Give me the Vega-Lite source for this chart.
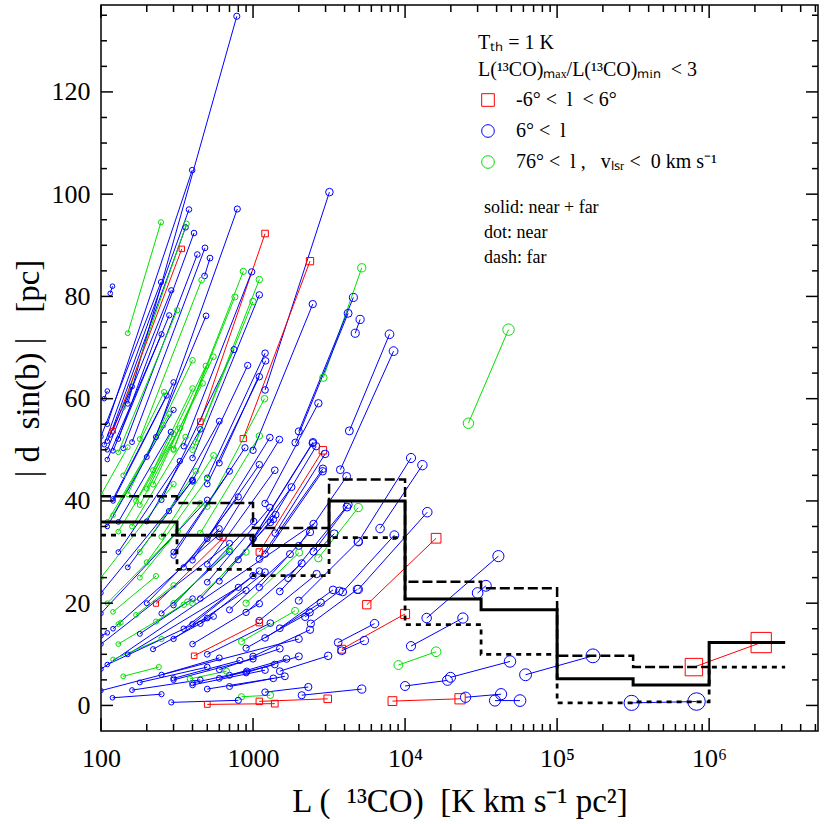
{
"$schema": "https://vega.github.io/schema/vega-lite/v6.json",
"width": 717, "height": 726,
"autosize": {"type": "none"},
"padding": {"left": 101, "top": 5, "right": 12, "bottom": 93},
"background": "white",
"config": {
 "font": "Liberation Serif",
 "view": {"stroke": "black", "strokeWidth": 1.5},
 "axis": {"domain": false, "grid": false, "ticks": false, "labelFontSize": 26, "labelColor": "black", "titleFontSize": 33, "titleFontWeight": "normal", "titleColor": "black", "labelOverlap": false, "labelBound": false, "labelFlush": false}
},
"datasets": {
"xmaj": [{"t":100},{"t":1000},{"t":10000},{"t":100000},{"t":1000000}],
"xmin": [{"t":200},{"t":300},{"t":400},{"t":500},{"t":600},{"t":700},{"t":800},{"t":900},{"t":2000},{"t":3000},{"t":4000},{"t":5000},{"t":6000},{"t":7000},{"t":8000},{"t":9000},{"t":20000},{"t":30000},{"t":40000},{"t":50000},{"t":60000},{"t":70000},{"t":80000},{"t":90000},{"t":200000},{"t":300000},{"t":400000},{"t":500000},{"t":600000},{"t":700000},{"t":800000},{"t":900000},{"t":2000000},{"t":3000000},{"t":4000000},{"t":5000000}],
"ymaj": [{"t":0},{"t":20},{"t":40},{"t":60},{"t":80},{"t":100},{"t":120}],
"ymin": [{"t":5},{"t":10},{"t":15},{"t":25},{"t":30},{"t":35},{"t":45},{"t":50},{"t":55},{"t":65},{"t":70},{"t":75},{"t":85},{"t":90},{"t":95},{"t":105},{"t":110},{"t":115},{"t":125},{"t":130},{"t":135}],
"seg": [
{"id":1,"g":"b","L":150,"d":59},{"id":1,"g":"b","L":782,"d":134.8},
{"id":2,"g":"b","L":110,"d":55},{"id":2,"g":"b","L":398,"d":104.7},
{"id":3,"g":"b","L":105,"d":51},{"id":3,"g":"b","L":379,"d":97},
{"id":4,"g":"g","L":150,"d":72.8},{"id":4,"g":"g","L":248,"d":94.5},
{"id":5,"g":"b","L":115,"d":52.9},{"id":5,"g":"b","L":360,"d":93.5},
{"id":6,"g":"g","L":140,"d":58.3},{"id":6,"g":"g","L":365,"d":94.2},
{"id":7,"g":"b","L":130,"d":52.1},{"id":7,"g":"b","L":409,"d":92.4},
{"id":8,"g":"r","L":120,"d":53.7},{"id":8,"g":"r","L":340,"d":89.3},
{"id":9,"g":"b","L":140,"d":50.3},{"id":9,"g":"b","L":430,"d":88.2},
{"id":10,"g":"b","L":160,"d":51.5},{"id":10,"g":"b","L":483,"d":89.5},
{"id":11,"g":"b","L":480,"d":84},{"id":11,"g":"b","L":521,"d":87.5},
{"id":12,"g":"b","L":230,"d":52.5},{"id":12,"g":"b","L":788,"d":97.1},
{"id":13,"g":"b","L":1200,"d":61.7},{"id":13,"g":"b","L":3180,"d":100.4},
{"id":14,"g":"r","L":450,"d":55.5},{"id":14,"g":"r","L":1200,"d":92.3},
{"id":15,"g":"r","L":862,"d":52.2},{"id":15,"g":"r","L":2370,"d":86.9},
{"id":16,"g":"g","L":2900,"d":64.1},{"id":16,"g":"g","L":5190,"d":85.6},
{"id":17,"g":"b","L":2000,"d":53.6},{"id":17,"g":"b","L":4570,"d":79.8},
{"id":18,"g":"b","L":1900,"d":51.4},{"id":18,"g":"b","L":4220,"d":76.7},
{"id":19,"g":"b","L":4700,"d":72.8},{"id":19,"g":"b","L":5060,"d":75.5},
{"id":20,"g":"b","L":4300,"d":53.7},{"id":20,"g":"b","L":7900,"d":72.6},
{"id":21,"g":"b","L":3750,"d":46.1},{"id":21,"g":"b","L":8400,"d":69.3},
{"id":22,"g":"b","L":4930,"d":32.0},{"id":22,"g":"b","L":10940,"d":48.4},
{"id":23,"g":"b","L":6850,"d":34.6},{"id":23,"g":"b","L":13000,"d":47.0},
{"id":24,"g":"b","L":4930,"d":22.7},{"id":24,"g":"b","L":14000,"d":37.8},
{"id":25,"g":"b","L":3890,"d":22.2},{"id":25,"g":"b","L":8500,"d":33.3},
{"id":26,"g":"r","L":5600,"d":19.7},{"id":26,"g":"r","L":16000,"d":32.7},
{"id":27,"g":"b","L":13870,"d":17.1},{"id":27,"g":"b","L":41100,"d":29.2},
{"id":28,"g":"b","L":30000,"d":22.0},{"id":28,"g":"b","L":34000,"d":23.4},
{"id":29,"g":"r","L":3830,"d":11.0},{"id":29,"g":"r","L":10000,"d":17.9},
{"id":30,"g":"b","L":3630,"d":12.3},{"id":30,"g":"b","L":6300,"d":16.0},
{"id":31,"g":"b","L":3830,"d":10.7},{"id":31,"g":"b","L":5400,"d":12.7},
{"id":32,"g":"b","L":10940,"d":11.6},{"id":32,"g":"b","L":24000,"d":17.1},
{"id":33,"g":"g","L":9040,"d":7.9},{"id":33,"g":"g","L":16000,"d":10.5},
{"id":34,"g":"b","L":10000,"d":3.8},{"id":34,"g":"b","L":19000,"d":4.9},
{"id":35,"g":"b","L":19900,"d":5.5},{"id":35,"g":"b","L":49000,"d":8.6},
{"id":36,"g":"b","L":62000,"d":6.0},{"id":36,"g":"b","L":172000,"d":9.7},
{"id":37,"g":"r","L":8260,"d":0.85},{"id":37,"g":"r","L":23000,"d":1.3},
{"id":38,"g":"b","L":25000,"d":1.6},{"id":38,"g":"b","L":42800,"d":2.2},
{"id":39,"g":"b","L":39000,"d":0.95},{"id":39,"g":"b","L":57000,"d":0.95},
{"id":40,"g":"b","L":309000,"d":0.5},{"id":40,"g":"b","L":826000,"d":0.76},
{"id":41,"g":"r","L":794000,"d":7.5},{"id":41,"g":"r","L":2200000,"d":12.3},
{"id":42,"g":"g","L":26100,"d":55.2},{"id":42,"g":"g","L":47900,"d":73.5},
{"id":43,"g":"b","L":2000,"d":31.2},{"id":43,"g":"b","L":4130,"d":44.8},
{"id":44,"g":"b","L":1200,"d":29.6},{"id":44,"g":"b","L":2870,"d":45.8},
{"id":45,"g":"b","L":800,"d":28.5},{"id":45,"g":"b","L":1790,"d":42.7},
{"id":46,"g":"b","L":1000,"d":32.6},{"id":46,"g":"b","L":2470,"d":51.3},
{"id":47,"g":"b","L":500,"d":27.6},{"id":47,"g":"b","L":1390,"d":46.0},
{"id":48,"g":"b","L":400,"d":28.4},{"id":48,"g":"b","L":1100,"d":47.1},
{"id":49,"g":"b","L":300,"d":29.3},{"id":49,"g":"b","L":885,"d":50.4},
{"id":50,"g":"b","L":500,"d":24.1},{"id":50,"g":"b","L":1290,"d":38.7},
{"id":51,"g":"b","L":600,"d":24.3},{"id":51,"g":"b","L":1410,"d":37.3},
{"id":52,"g":"b","L":450,"d":20.9},{"id":52,"g":"b","L":1360,"d":36.4},
{"id":53,"g":"b","L":300,"d":19.6},{"id":53,"g":"b","L":1010,"d":36.0},
{"id":54,"g":"b","L":1100,"d":23.1},{"id":54,"g":"b","L":2370,"d":33.9},
{"id":55,"g":"b","L":1700,"d":24.9},{"id":55,"g":"b","L":4230,"d":39.3},
{"id":56,"g":"b","L":2500,"d":30.1},{"id":56,"g":"b","L":4150,"d":38.8},
{"id":57,"g":"g","L":2690,"d":28.8},{"id":57,"g":"g","L":4920,"d":38.7},
{"id":58,"g":"b","L":1500,"d":22.3},{"id":58,"g":"b","L":3420,"d":33.6},
{"id":59,"g":"b","L":2000,"d":20.5},{"id":59,"g":"b","L":4920,"d":32.1},
{"id":60,"g":"g","L":900,"d":20.0},{"id":60,"g":"g","L":2010,"d":29.9},
{"id":61,"g":"b","L":700,"d":18.7},{"id":61,"g":"b","L":1750,"d":29.6},
{"id":62,"g":"b","L":900,"d":18.2},{"id":62,"g":"b","L":2090,"d":27.8},
{"id":63,"g":"b","L":400,"d":15.9},{"id":63,"g":"b","L":1100,"d":26.3},
{"id":64,"g":"b","L":1100,"d":16.6},{"id":64,"g":"b","L":2620,"d":25.7},
{"id":65,"g":"b","L":1500,"d":15.1},{"id":65,"g":"b","L":3360,"d":22.6},
{"id":66,"g":"b","L":2200,"d":17.3},{"id":66,"g":"b","L":3700,"d":22.4},
{"id":67,"g":"b","L":2400,"d":16.0},{"id":67,"g":"b","L":4850,"d":22.7},
{"id":68,"g":"b","L":1200,"d":13.2},{"id":68,"g":"b","L":2790,"d":20.1},
{"id":69,"g":"b","L":900,"d":11.2},{"id":69,"g":"b","L":2360,"d":18.2},
{"id":70,"g":"g","L":840,"d":12.5},{"id":70,"g":"g","L":1890,"d":18.5},
{"id":71,"g":"r","L":410,"d":9.7},{"id":71,"g":"r","L":1100,"d":16.2},
{"id":72,"g":"b","L":1000,"d":9.6},{"id":72,"g":"b","L":2370,"d":14.8},
{"id":73,"g":"b","L":1500,"d":6.7},{"id":73,"g":"b","L":3120,"d":9.7},
{"id":74,"g":"b","L":900,"d":6.4},{"id":74,"g":"b","L":2000,"d":9.6},
{"id":75,"g":"b","L":700,"d":5.9},{"id":75,"g":"b","L":1660,"d":9.1},
{"id":76,"g":"b","L":600,"d":5.3},{"id":76,"g":"b","L":1390,"d":8.0},
{"id":77,"g":"b","L":400,"d":4.4},{"id":77,"g":"b","L":910,"d":6.7},
{"id":78,"g":"b","L":300,"d":5.3},{"id":78,"g":"b","L":820,"d":8.8},
{"id":79,"g":"b","L":700,"d":3.7},{"id":79,"g":"b","L":1620,"d":5.7},
{"id":80,"g":"b","L":500,"d":3.2},{"id":80,"g":"b","L":1360,"d":5.3},
{"id":81,"g":"b","L":2090,"d":2.0},{"id":81,"g":"b","L":5190,"d":3.2},
{"id":82,"g":"r","L":1100,"d":0.8},{"id":82,"g":"r","L":3100,"d":1.3},
{"id":83,"g":"r","L":500,"d":0.2},{"id":83,"g":"r","L":1390,"d":0.35},
{"id":84,"g":"g","L":840,"d":1.7},{"id":84,"g":"g","L":1300,"d":2.0},
{"id":85,"g":"b","L":119,"d":1.5},{"id":85,"g":"b","L":250,"d":2.2},
{"id":86,"g":"b","L":290,"d":0.6},{"id":86,"g":"b","L":800,"d":1.0},
{"id":87,"g":"b","L":1200,"d":2.6},{"id":87,"g":"b","L":2310,"d":3.6},
{"id":88,"g":"b","L":100,"d":7.1},{"id":88,"g":"b","L":2500,"d":35.5},
{"id":89,"g":"b","L":100,"d":2.9},{"id":89,"g":"b","L":2000,"d":13.0},
{"id":90,"g":"g","L":140,"d":5.7},{"id":90,"g":"g","L":240,"d":7.5},
{"id":91,"g":"g","L":385,"d":5.2},{"id":91,"g":"g","L":670,"d":6.7},
{"id":92,"g":"g","L":150,"d":41.3},{"id":92,"g":"g","L":400,"d":67.5},
{"id":93,"g":"g","L":200,"d":42.4},{"id":93,"g":"g","L":490,"d":66.4},
{"id":94,"g":"g","L":180,"d":39.2},{"id":94,"g":"g","L":466,"d":63.0},
{"id":95,"g":"g","L":220,"d":43.2},{"id":95,"g":"g","L":548,"d":68.2},
{"id":96,"g":"b","L":250,"d":40.2},{"id":96,"g":"b","L":750,"d":69.6},
{"id":97,"g":"b","L":500,"d":44.5},{"id":97,"g":"b","L":1200,"d":68.9},
{"id":98,"g":"b","L":400,"d":43.8},{"id":98,"g":"b","L":922,"d":66.5},
{"id":99,"g":"b","L":600,"d":47.4},{"id":99,"g":"b","L":1210,"d":67.4},
{"id":100,"g":"b","L":500,"d":43.3},{"id":100,"g":"b","L":1100,"d":64.3},
{"id":101,"g":"g","L":500,"d":38.9},{"id":101,"g":"g","L":1190,"d":60.0},
{"id":102,"g":"b","L":120,"d":40.4},{"id":102,"g":"b","L":270,"d":60.6},
{"id":103,"g":"b","L":110,"d":51.7},{"id":103,"g":"b","L":160,"d":62.4},
{"id":104,"g":"g","L":120,"d":37.2},{"id":104,"g":"g","L":281,"d":57.0},
{"id":105,"g":"g","L":110,"d":35.9},{"id":105,"g":"g","L":257,"d":54.8},
{"id":106,"g":"g","L":130,"d":34.0},{"id":106,"g":"g","L":330,"d":54.2},
{"id":107,"g":"b","L":130,"d":35.9},{"id":107,"g":"b","L":288,"d":53.5},
{"id":108,"g":"g","L":100,"d":41.2},{"id":108,"g":"g","L":150,"d":50.5},
{"id":109,"g":"g","L":450,"d":33.7},{"id":109,"g":"g","L":1100,"d":52.7},
{"id":110,"g":"b","L":500,"d":32.6},{"id":110,"g":"b","L":1290,"d":52.4},
{"id":111,"g":"b","L":600,"d":33.0},{"id":111,"g":"b","L":1490,"d":52.0},
{"id":112,"g":"b","L":1000,"d":32.7},{"id":112,"g":"b","L":2480,"d":51.5},
{"id":113,"g":"b","L":1300,"d":35.8},{"id":113,"g":"b","L":2600,"d":50.7},
{"id":114,"g":"r","L":1100,"d":30.0},{"id":114,"g":"r","L":2880,"d":49.9},
{"id":115,"g":"b","L":1400,"d":33.7},{"id":115,"g":"b","L":2980,"d":49.2},
{"id":116,"g":"b","L":1100,"d":28.6},{"id":116,"g":"b","L":2880,"d":46.3},
{"id":117,"g":"b","L":105,"d":60},{"id":117,"g":"b","L":110,"d":61.5},
{"id":118,"g":"b","L":115,"d":80.6},{"id":118,"g":"b","L":119,"d":82.0},
{"id":119,"g":"g","L":180,"d":52.1},{"id":119,"g":"g","L":459,"d":83.2},
{"id":120,"g":"b","L":100,"d":52.6},{"id":120,"g":"b","L":248,"d":82.8},
{"id":121,"g":"b","L":110,"d":50},{"id":121,"g":"b","L":290,"d":81.2},
{"id":122,"g":"g","L":130,"d":49.5},{"id":122,"g":"g","L":317,"d":77.3},
{"id":123,"g":"b","L":120,"d":49.8},{"id":123,"g":"b","L":281,"d":76.3},
{"id":124,"g":"b","L":110,"d":48.1},{"id":124,"g":"b","L":250,"d":72.6},
{"id":125,"g":"b","L":200,"d":48.6},{"id":125,"g":"b","L":491,"d":76.2},
{"id":126,"g":"g","L":300,"d":50},{"id":126,"g":"g","L":863,"d":84.9},
{"id":127,"g":"b","L":350,"d":50.7},{"id":127,"g":"b","L":980,"d":84.8},
{"id":128,"g":"g","L":420,"d":51.5},{"id":128,"g":"g","L":1100,"d":83.3},
{"id":129,"g":"b","L":400,"d":48.4},{"id":129,"g":"b","L":1100,"d":80.3},
{"id":130,"g":"g","L":300,"d":50.2},{"id":130,"g":"g","L":760,"d":79.9},
{"id":131,"g":"g","L":400,"d":50},{"id":131,"g":"g","L":998,"d":79},
{"id":132,"g":"b","L":1000,"d":49.9},{"id":132,"g":"b","L":2470,"d":78.5},
{"id":133,"g":"b","L":1200,"d":39.5},{"id":133,"g":"b","L":2690,"d":59.1},
{"id":134,"g":"g","L":100,"d":25},{"id":134,"g":"g","L":300,"d":43.3},
{"id":135,"g":"g","L":110,"d":20},{"id":135,"g":"g","L":320,"d":34.1},
{"id":136,"g":"b","L":100,"d":22},{"id":136,"g":"b","L":400,"d":44},
{"id":137,"g":"b","L":100,"d":18},{"id":137,"g":"b","L":500,"d":40.2},
{"id":138,"g":"b","L":120,"d":15},{"id":138,"g":"b","L":600,"d":33.5},
{"id":139,"g":"g","L":130,"d":12},{"id":139,"g":"g","L":350,"d":19.7},
{"id":140,"g":"b","L":100,"d":12},{"id":140,"g":"b","L":700,"d":31.7},
{"id":141,"g":"b","L":150,"d":10},{"id":141,"g":"b","L":800,"d":23.1},
{"id":142,"g":"g","L":120,"d":9},{"id":142,"g":"g","L":250,"d":13},
{"id":143,"g":"b","L":110,"d":8},{"id":143,"g":"b","L":500,"d":17.1},
{"id":144,"g":"b","L":100,"d":13.6},{"id":144,"g":"b","L":110,"d":14.2},
{"id":145,"g":"b","L":180,"d":14},{"id":145,"g":"b","L":400,"d":20.9},
{"id":146,"g":"b","L":200,"d":20},{"id":146,"g":"b","L":600,"d":34.6},
{"id":147,"g":"g","L":180,"d":25},{"id":147,"g":"g","L":450,"d":39.5},
{"id":148,"g":"b","L":250,"d":18},{"id":148,"g":"b","L":700,"d":30.1},
{"id":149,"g":"b","L":300,"d":13},{"id":149,"g":"b","L":900,"d":22.5},
{"id":150,"g":"g","L":300,"d":20},{"id":150,"g":"g","L":700,"d":30.5},
{"id":151,"g":"b","L":350,"d":15},{"id":151,"g":"b","L":1000,"d":25.4},
{"id":152,"g":"b","L":220,"d":11},{"id":152,"g":"b","L":550,"d":17.4},
{"id":153,"g":"b","L":400,"d":12},{"id":153,"g":"b","L":1100,"d":19.9},
{"id":154,"g":"b","L":500,"d":10},{"id":154,"g":"b","L":1300,"d":16.1},
{"id":155,"g":"b","L":250,"d":6},{"id":155,"g":"b","L":600,"d":9.3},
{"id":156,"g":"b","L":300,"d":5},{"id":156,"g":"b","L":1000,"d":9.1},
{"id":157,"g":"b","L":600,"d":7},{"id":157,"g":"b","L":1500,"d":11.1},
{"id":158,"g":"b","L":180,"d":4.5},{"id":158,"g":"b","L":500,"d":7.5},
{"id":159,"g":"b","L":400,"d":4},{"id":159,"g":"b","L":1200,"d":6.9},
{"id":160,"g":"b","L":160,"d":3},{"id":160,"g":"b","L":450,"d":5.0},
{"id":161,"g":"g","L":200,"d":28},{"id":161,"g":"g","L":500,"d":44.3},
{"id":162,"g":"g","L":250,"d":33},{"id":162,"g":"g","L":550,"d":48.9},
{"id":163,"g":"b","L":150,"d":27},{"id":163,"g":"b","L":400,"d":44.1},
{"id":164,"g":"b","L":130,"d":30},{"id":164,"g":"b","L":330,"d":47.8},
{"id":165,"g":"g","L":160,"d":35},{"id":165,"g":"g","L":360,"d":52.5},
{"id":166,"g":"b","L":200,"d":36},{"id":166,"g":"b","L":450,"d":54.0},
{"id":167,"g":"g","L":170,"d":40},{"id":167,"g":"g","L":300,"d":53.1},
{"id":168,"g":"b","L":280,"d":38},{"id":168,"g":"b","L":600,"d":55.6},
{"id":169,"g":"g","L":140,"d":45},{"id":169,"g":"g","L":260,"d":61.3},
{"id":170,"g":"b","L":120,"d":40},{"id":170,"g":"b","L":300,"d":63.2},
{"id":171,"g":"g","L":220,"d":46},{"id":171,"g":"g","L":400,"d":62},
{"id":172,"g":"b","L":300,"d":30},{"id":172,"g":"b","L":700,"d":45.8},
{"id":173,"g":"b","L":350,"d":27},{"id":173,"g":"b","L":800,"d":40.8},
{"id":174,"g":"g","L":400,"d":20},{"id":174,"g":"g","L":900,"d":30},
{"id":175,"g":"b","L":450,"d":16},{"id":175,"g":"b","L":1200,"d":26.1},
{"id":176,"g":"g","L":180,"d":30},{"id":176,"g":"g","L":420,"d":45.8},
{"id":177,"g":"b","L":110,"d":35},{"id":177,"g":"b","L":300,"d":57.8},
{"id":178,"g":"r","L":230,"d":19.9},{"id":178,"g":"r","L":635,"d":32.8},
{"id":179,"g":"g","L":120,"d":18.3},{"id":179,"g":"g","L":230,"d":25.3},
{"id":180,"g":"g","L":130,"d":15.9},{"id":180,"g":"g","L":135,"d":16.2},
{"id":181,"g":"g","L":170,"d":17.7},{"id":181,"g":"g","L":300,"d":23.5},
{"id":182,"g":"g","L":230,"d":16.4},{"id":182,"g":"g","L":370,"d":20.3}
],
"step": [
{"k":"solid","L":100,"d":35.9},{"k":"solid","L":316.2,"d":33.3},{"k":"solid","L":1000,"d":31.3},{"k":"solid","L":3162,"d":40.0},{"k":"solid","L":10000,"d":20.8},{"k":"solid","L":31623,"d":18.7},{"k":"solid","L":100000,"d":5.2},{"k":"solid","L":316228,"d":4.0},{"k":"solid","L":1000000,"d":12.3},{"k":"solid","L":3162278,"d":12.3},
{"k":"dot","L":100,"d":33.3},{"k":"dot","L":316.2,"d":26.6},{"k":"dot","L":1000,"d":25.4},{"k":"dot","L":3162,"d":32.8},{"k":"dot","L":10000,"d":15.8},{"k":"dot","L":31623,"d":10.0},{"k":"dot","L":100000,"d":0.5},{"k":"dot","L":316228,"d":0.7},{"k":"dot","L":1000000,"d":7.5},{"k":"dot","L":3162278,"d":7.5},
{"k":"dash","L":100,"d":40.9},{"k":"dash","L":316.2,"d":39.6},{"k":"dash","L":1000,"d":34.7},{"k":"dash","L":3162,"d":44.2},{"k":"dash","L":10000,"d":24.2},{"k":"dash","L":31623,"d":22.9},{"k":"dash","L":100000,"d":9.7},{"k":"dash","L":316228,"d":7.5},{"k":"dash","L":1000000,"d":7.5}
]
},
"layer": [
{
 "data": {"name": "seg"},
 "mark": {"type": "line", "strokeWidth": 1, "clip": true},
 "encoding": {
  "x": {"field": "L", "type": "quantitative", "scale": {"type": "log", "domain": [100, 5200000], "nice": false},
   "axis": {"orient": "bottom", "values": [100,1000,10000,100000,1000000],
    "labelExpr": "datum.value == 100 ? '100' : datum.value == 1000 ? '1000' : datum.value == 10000 ? '10⁴' : datum.value == 100000 ? '10⁵' : '10⁶'",
    "labelFlush": false, "labelAlign": "center",
    "labelPadding": 14, "title": "L (\u00a0\u00a0¹³CO)\u00a0\u00a0[K km s⁻¹ pc²]", "titlePadding": 14}},
  "y": {"field": "d", "type": "quantitative", "scale": {"domain": [-5, 137], "nice": false, "zero": false},
   "axis": {"orient": "left", "values": [0,20,40,60,80,100,120],
    "labelPadding": 11, "title": "|\u00a0d\u00a0\u00a0sin(b)\u00a0|\u00a0\u00a0\u00a0[pc]", "titlePadding": 6}},
  "color": {"field": "g", "type": "nominal", "scale": {"domain": ["r", "b", "g"], "range": ["#ff0000", "#0000ff", "#00e000"]}},
  "detail": {"field": "id"}
 }
},
{
 "data": {"name": "seg"},
 "mark": {"type": "point", "filled": false, "strokeWidth": 1, "opacity": 1, "clip": true},
 "encoding": {
  "x": {"field": "L", "type": "quantitative"},
  "y": {"field": "d", "type": "quantitative"},
  "color": {"field": "g", "type": "nominal", "scale": {"domain": ["r", "b", "g"], "range": ["#ff0000", "#0000ff", "#00e000"]},
   "legend": {"orient": "none", "legendX": 377, "legendY": 28, "padding": 0,
    "title": ["Tₜₕ = 1 K", "L(¹³CO)ₘₐₓ/L(¹³CO)ₘᵢₙ\u00a0\u00a0< 3"], "titleFontSize": 20, "titleFontWeight": "normal", "titleColor": "black", "titleLineHeight": 27, "titlePadding": 10, "titleLimit": 500, "labelLimit": 500,
    "labelFontSize": 20, "labelColor": "black", "rowPadding": 11, "symbolSize": 160, "symbolStrokeWidth": 1, "labelOffset": 18,
    "labelExpr": "datum.value == 'r' ? '-6° <\u00a0\u00a0l\u00a0\u00a0< 6°' : datum.value == 'b' ? '\u00a06° <\u00a0\u00a0l' : '\u00a076° <\u00a0\u00a0l ,\u00a0\u00a0 vₗₛᵣ <\u00a0\u00a00 km s⁻¹'"}},
  "shape": {"field": "g", "type": "nominal", "scale": {"domain": ["r", "b", "g"], "range": ["square", "circle", "circle"]},
   "legend": {"orient": "none", "legendX": 377, "legendY": 28, "padding": 0,
    "title": ["Tₜₕ = 1 K", "L(¹³CO)ₘₐₓ/L(¹³CO)ₘᵢₙ\u00a0\u00a0< 3"], "titleFontSize": 20, "titleFontWeight": "normal", "titleColor": "black", "titleLineHeight": 27, "titlePadding": 10, "titleLimit": 500, "labelLimit": 500,
    "labelFontSize": 20, "labelColor": "black", "rowPadding": 11, "symbolSize": 160, "symbolStrokeWidth": 1, "labelOffset": 18,
    "labelExpr": "datum.value == 'r' ? '-6° <\u00a0\u00a0l\u00a0\u00a0< 6°' : datum.value == 'b' ? '\u00a06° <\u00a0\u00a0l' : '\u00a076° <\u00a0\u00a0l ,\u00a0\u00a0 vₗₛᵣ <\u00a0\u00a00 km s⁻¹'"}},
  "size": {"field": "L", "type": "quantitative", "scale": {"type": "pow", "exponent": 0.3, "domain": [0, 3000000], "range": [0, 452]}, "legend": null}
 }
},
{
 "data": {"name": "step"},
 "mark": {"type": "line", "interpolate": "step-after", "color": "black", "clip": true},
 "encoding": {
  "x": {"field": "L", "type": "quantitative"},
  "y": {"field": "d", "type": "quantitative"},
  "detail": {"field": "k"},
  "strokeDash": {"field": "k", "type": "nominal", "scale": {"domain": ["solid", "dot", "dash"], "range": [[1, 0], [5, 5], [10, 4]]},
   "legend": {"orient": "none", "legendX": 365, "legendY": 194, "padding": 0, "title": null, "labelFontSize": 18, "labelColor": "black", "rowPadding": 7, "symbolOpacity": 0, "symbolSize": 0, "labelOffset": 0,
    "labelExpr": "datum.value == 'solid' ? 'solid: near + far' : datum.value == 'dot' ? 'dot: near' : 'dash: far'"}},
  "strokeWidth": {"field": "k", "type": "ordinal", "scale": {"domain": ["solid", "dot", "dash"], "range": [3, 2.5, 3]}, "legend": null}
 }
},
{"data": {"name": "xmaj"}, "mark": {"type": "rule", "color": "black", "strokeWidth": 1.5},
 "encoding": {"x": {"field": "t", "type": "quantitative"}, "y": {"datum": -5}, "y2": {"datum": -2.46}}},
{"data": {"name": "xmaj"}, "mark": {"type": "rule", "color": "black", "strokeWidth": 1.5},
 "encoding": {"x": {"field": "t", "type": "quantitative"}, "y": {"datum": 137}, "y2": {"datum": 134.46}}},
{"data": {"name": "xmin"}, "mark": {"type": "rule", "color": "black", "strokeWidth": 1.5},
 "encoding": {"x": {"field": "t", "type": "quantitative"}, "y": {"datum": -5}, "y2": {"datum": -3.63}}},
{"data": {"name": "xmin"}, "mark": {"type": "rule", "color": "black", "strokeWidth": 1.5},
 "encoding": {"x": {"field": "t", "type": "quantitative"}, "y": {"datum": 137}, "y2": {"datum": 135.63}}},
{"data": {"name": "ymaj"}, "mark": {"type": "rule", "color": "black", "strokeWidth": 1.5},
 "encoding": {"y": {"field": "t", "type": "quantitative"}, "x": {"datum": 100}, "x2": {"datum": 119.9}}},
{"data": {"name": "ymaj"}, "mark": {"type": "rule", "color": "black", "strokeWidth": 1.5},
 "encoding": {"y": {"field": "t", "type": "quantitative"}, "x": {"datum": 5200000}, "x2": {"datum": 4337000}}},
{"data": {"name": "ymin"}, "mark": {"type": "rule", "color": "black", "strokeWidth": 1.5},
 "encoding": {"y": {"field": "t", "type": "quantitative"}, "x": {"datum": 100}, "x2": {"datum": 109.5}}},
{"data": {"name": "ymin"}, "mark": {"type": "rule", "color": "black", "strokeWidth": 1.5},
 "encoding": {"y": {"field": "t", "type": "quantitative"}, "x": {"datum": 5200000}, "x2": {"datum": 4748000}}}
]
}
